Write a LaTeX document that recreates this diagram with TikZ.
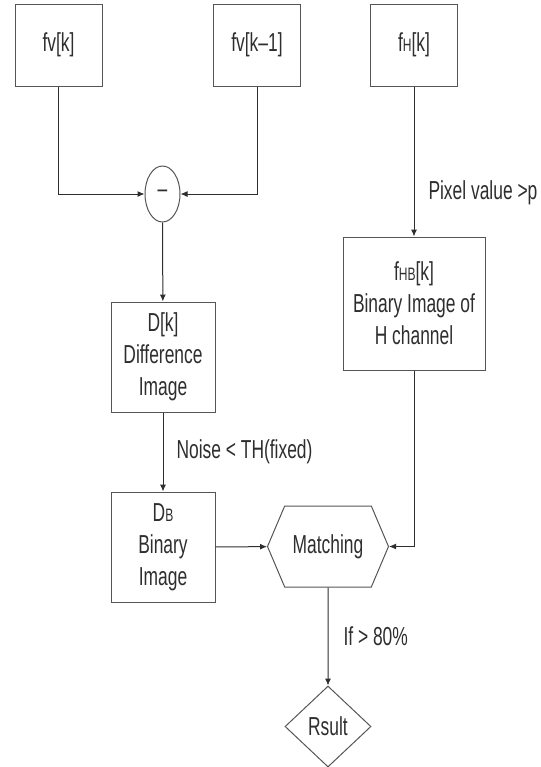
\documentclass[tikz,border=0pt]{standalone}
\usepackage{fontspec}
\setmainfont{Liberation Sans}[FakeStretch=0.67]
\usetikzlibrary{arrows.meta,positioning,shapes.geometric,shapes.symbols}
\definecolor{inkgray}{HTML}{2E2E2E}
\definecolor{boxgray}{HTML}{555555}
\newcommand{\chsub}[1]{{\fontsize{9}{9}\selectfont #1}}
\tikzset{box/.style={draw=boxgray,line width=0.5pt,align=center,inner sep=0pt,text=inkgray,font=\fontsize{13}{16}\selectfont},flow/.style={-{Latex[length=3.5pt,width=3pt]},draw=inkgray,line width=0.5pt},tag/.style={font=\fontsize{13}{16}\selectfont,text=inkgray,inner sep=0pt}}

\begin{document}
\begin{tikzpicture}[x=0.5pt,y=-0.5pt]
\useasboundingbox (0,0) rectangle (541,767);
\node[box,minimum width=43.5pt,minimum height=41pt] (fvk) at (58.5,45) {fv[k]};
\node[box,minimum width=43.5pt,minimum height=41pt] (fvkprev) at (257,45) {fv[k--1]};
\node[box,minimum width=43.5pt,minimum height=41pt] (fhk) at (414,45) {f\chsub{H}[k]};
\node[box,ellipse,minimum width=17.5pt,minimum height=28pt] (minus) at (162.5,194) {\raisebox{-3pt}{--}};
\node[box,minimum width=52pt,minimum height=55pt] (diff) at (163,357)
 {D[k]\\Difference\\Image};
\node[box,minimum width=52pt,minimum height=55pt] (diffbin) at (163,547)
 {D\chsub{B}\\Binary\\Image};
\node[box,minimum width=71pt,minimum height=66.5pt] (hbin) at (414,303.5)
 {f\chsub{HB}[k]\\Binary Image of\\H channel};
\node[box,signal,signal to=west and east,signal pointer angle=134,minimum width=60.5pt,minimum height=40.5pt] (match) at (328,546.5) {Matching};
\node[box,diamond,minimum width=43pt,minimum height=40.5pt] (result) at (328,726.5) {Rsult};
\draw[flow] (fvk) |- (minus);
\draw[flow] (fvkprev) |- (minus);
\draw[flow] (minus) -- (diff);
\draw[flow] (diff) -- node[tag,right=6.5pt]{Noise < TH(fixed)} (diffbin);
\draw[flow] (fhk) -- node[tag,right=7pt,pos=0.71]{Pixel value >p} (hbin);
\draw[flow] (diffbin) -- (match);
\draw[flow] (hbin) |- (match.east);
\draw[flow] (match) -- node[tag,right=7.5pt]{If > 80\%} (result);
\end{tikzpicture}
\end{document}
